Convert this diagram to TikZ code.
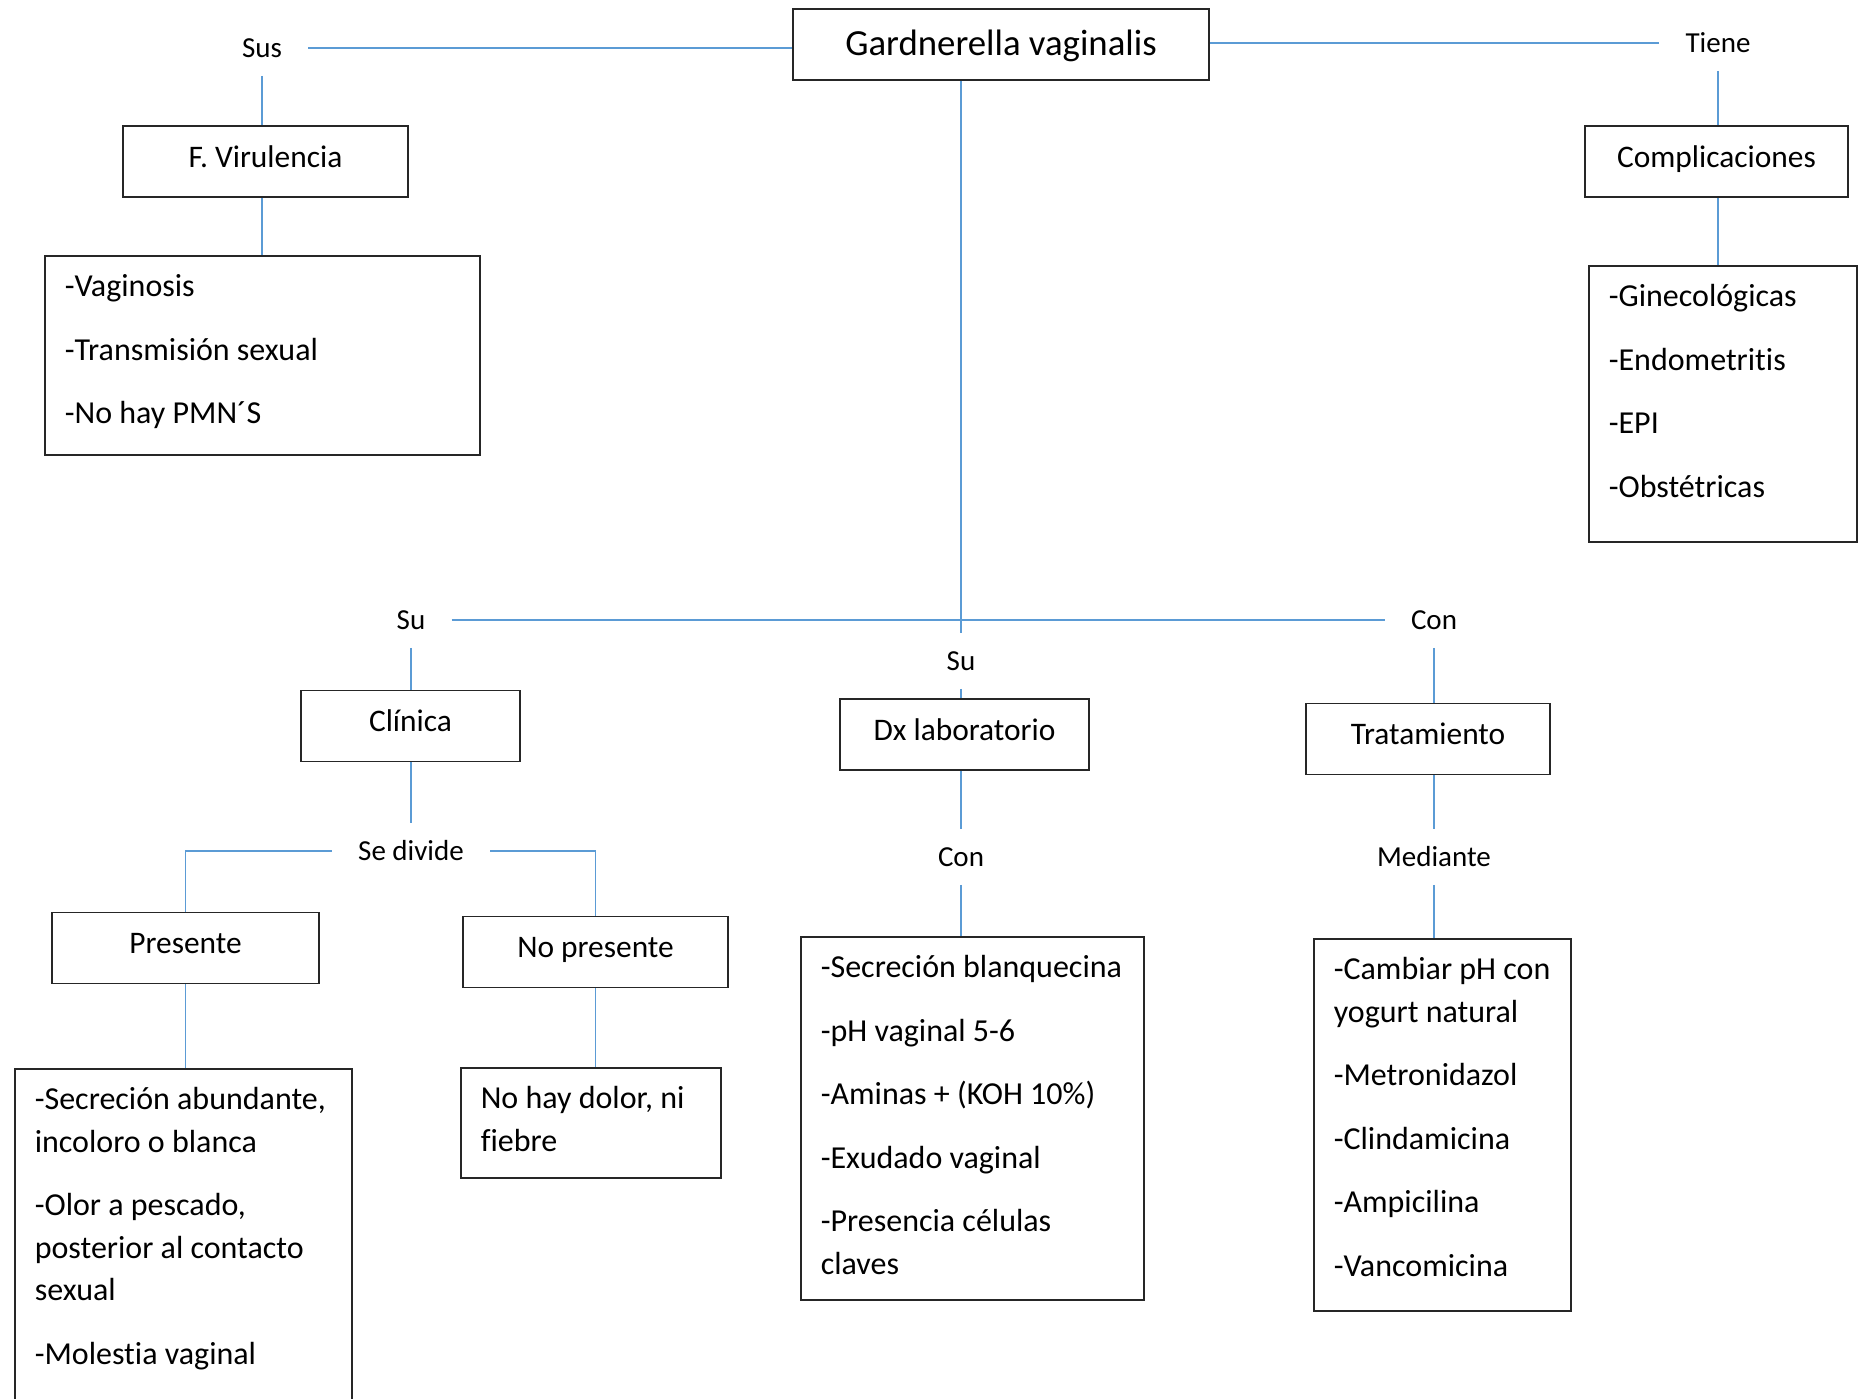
\documentclass[tikz,border=0pt]{standalone}
\usepackage{fontspec}
\setmainfont{Carlito}[Ligatures=NoCommon]
\usetikzlibrary{positioning}
\usetikzlibrary{calc}

\definecolor{linea}{RGB}{91,155,213}

\begin{document}
\begin{tikzpicture}[x=0.5pt, y=-0.5pt,
    caja/.style={draw=black!85, line width=0.8pt, inner sep=0pt, minimum height=35.5pt, text height=11pt, text depth=5.5pt, font=\fontsize{15.7}{19}\selectfont},
    lista/.style={draw=black!85, line width=0.8pt, anchor=north west, align=flush left, inner xsep=10pt, inner ysep=5.5pt, text height=15pt, font=\fontsize{16}{21.25}\selectfont,
        execute at begin node={\spaceskip=0pt\xspaceskip=0pt\hyphenpenalty=10000\exhyphenpenalty=10000}},
    etiq/.style={inner xsep=13pt, inner ysep=6pt, text height=12.5pt, text depth=3pt, font=\fontsize{14.5}{17}\selectfont},
    con/.style={draw=linea, line width=0.8pt}]
            \useasboundingbox (0,0) rectangle (1860,1399);
            \clip (0,0) rectangle (1860,1399);

            \node[caja, minimum width=208pt, text height=15pt, text depth=4pt, font=\fontsize{18.4}{22}\selectfont] (G) at (1001,44.5) {Gardnerella vaginalis};
            \node[etiq] (Sus) at (262,48) {Sus};
            \node[etiq] (Tiene) at (1718,43) {Tiene};
            \node[caja, minimum width=142.5pt] (FV) at (265.5,161.5) {F. Virulencia};
            \node[caja, minimum width=131.5pt] (Comp) at (1716.5,161.5) {Complicaciones};
            \node[lista, text width=197.5pt, text depth=73.5pt] (FVL) at (44,255) {-Vaginosis\\[10.5pt]-Transmisión sexual\\[10.5pt]-No hay PMN´S};
            \node[lista, text width=114pt, text depth=112pt] (CompL) at (1588,265) {-Ginecológicas\\[10.5pt]-Endometritis\\[10.5pt]-EPI\\[10.5pt]-Obstétricas};

            \node[etiq] (Su) at (961,661) {Su};
            \node[etiq] (SuA) at (411,620) {Su};
            \node[etiq] (ConA) at (1434,620) {Con};
            \node[caja, minimum width=124.5pt] (Dx) at (964.5,734.5) {Dx laboratorio};
            \node[etiq] (ConB) at (961,857) {Con};
            \node[lista, text width=151.5pt, text depth=155.5pt] (DxL) at (800,936) {-Secreción~blanquecina\\[10.5pt]-pH vaginal 5-6\\[10.5pt]-Aminas + (KOH 10\%)\\[10.5pt]-Exudado vaginal\\[10.5pt]-Presencia células\\claves};

            \node[caja, minimum width=109.5pt] (Cl) at (410.5,726) {Clínica};
            \node[etiq] (SeD) at (411,851) {Se divide};
            \node[caja, minimum width=133.5pt] (Pr) at (185.5,948) {Presente};
            \node[caja, minimum width=132.5pt] (NPr) at (595.5,952) {No presente};
            \node[lista, text width=148.5pt, text depth=200pt] (PrL) at (14,1068) {-Secreción~abundante,\\incoloro o blanca\\[10.5pt]-Olor a pescado,\\posterior al contacto\\sexual\\[10.5pt]-Molestia vaginal};
            \node[lista, text width=110pt, text depth=29pt] (NPrL) at (460,1067) {No hay dolor, ni\\fiebre};

            \node[caja, minimum width=122pt] (Tr) at (1428,739) {Tratamiento};
            \node[etiq] (Med) at (1434,857) {Mediante};
            \node[lista, text width=108.5pt, text depth=160pt] (TrL) at (1313,938) {-Cambiar~pH~con\\yogurt natural\\[10.5pt]-Metronidazol\\[10.5pt]-Clindamicina\\[10.5pt]-Ampicilina\\[10.5pt]-Vancomicina};

            \draw[con] (Sus.east) -- (Sus.east -| G.west);
            \draw[con] (Sus.south) -- (Sus.south |- FV.north);
            \draw[con] (Tiene.west) -- (Tiene.west -| G.east);
            \draw[con] (Tiene.south) -- (Tiene.south |- Comp.north);
            \draw[con] (FV.south -| Sus) -- (FVL.north -| Sus);
            \draw[con] (Comp.south -| Tiene) -- (CompL.north -| Tiene);

            \draw[con] (G.south -| Su) -- (Su.north);
            \draw[con] (SuA.east) -- (ConA.west);
            \draw[con] (Su.south) -- (Su.south |- Dx.north);
            \draw[con] (Dx.south -| Su) -- (ConB.north);
            \draw[con] (ConB.south) -- (ConB.south |- DxL.north);

            \draw[con] (SuA.south) -- (SuA.south |- Cl.north);
            \draw[con] (Cl.south -| SuA) -- (SeD.north);
            \draw[con] (SeD.west) -| (Pr.north);
            \draw[con] (SeD.east) -| (NPr.north);
            \draw[con] (Pr.south) -- (Pr.south |- PrL.north);
            \draw[con] (NPr.south) -- (NPr.south |- NPrL.north);

            \draw[con] (ConA.south) -- (ConA.south |- Tr.north);
            \draw[con] (Tr.south -| ConA) -- (Med.north);
            \draw[con] (Med.south) -- (Med.south |- TrL.north);
        \end{tikzpicture}
\end{document}
